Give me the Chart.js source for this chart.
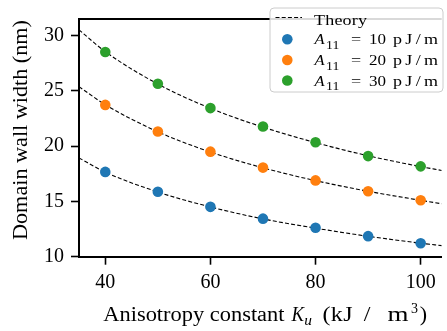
<!DOCTYPE html>
<html>
<head>
<meta charset="utf-8">
<script src="https://cdn.jsdelivr.net/npm/chart.js@4/dist/chart.umd.min.js"></script>
<style>
  html, body { margin: 0; padding: 0; background: #ffffff; }
  #wrap { width: 447px; height: 331px; position: relative; }
</style>
</head>
<body>
<div id="wrap"><canvas id="c" width="447" height="331"></canvas></div>
<script>
// ---- data ----
const anisotropy = [40, 50, 60, 70, 80, 90, 100];           // K_u (kJ/m^3)
const width10 = [17.67, 15.87, 14.51, 13.44, 12.62, 11.86, 11.22];
const width20 = [23.73, 21.33, 19.50, 18.06, 16.90, 15.92, 15.10];
const width30 = [28.51, 25.64, 23.44, 21.78, 20.35, 19.10, 18.17];

const theoryK = [35, 40, 50, 60, 70, 80, 90, 100, 104];
const theory10 = [18.93, 17.65, 15.85, 14.50, 13.42, 12.58, 11.85, 11.22, 11.00];
const theory20 = [25.38, 23.75, 21.30, 19.47, 18.04, 16.88, 15.92, 15.10, 14.79];
const theory30 = [30.52, 28.55, 25.62, 23.42, 21.72, 20.32, 19.13, 18.15, 17.80];

const xTicks = [40, 60, 80, 100];
const yTicks = [10, 15, 20, 25, 30];

const seriesValues = ['10', '20', '30'];   // A11 in pJ/m
const seriesColors = ['#1f77b4', '#ff7f0e', '#2ca02c'];

const SERIF = '"Liberation Serif", "DejaVu Serif", serif';

function pts(xs, ys) { return xs.map((x, i) => ({x: x, y: ys[i]})); }

function theoryDs(ys) {
  return {
    type: 'line', label: 'Theory', data: pts(theoryK, ys),
    borderColor: '#000', borderWidth: 1.1, borderDash: [4, 2.2],
    pointRadius: 0, fill: false, cubicInterpolationMode: 'monotone', order: 2
  };
}
function pointDs(v, ys, color) {
  return {
    type: 'scatter', label: 'A11 = ' + v + ' pJ/m', data: pts(anisotropy, ys),
    backgroundColor: color, borderColor: color, borderWidth: 0,
    pointRadius: 5.3, pointHoverRadius: 5.3, showLine: false, order: 1
  };
}

// draw text into slot [x0,x1]: mild horizontal scaling, remaining gap as letter spacing
function slot(ctx, text, x0, x1, y, font, maxS) {
  maxS = maxS || 1.15;
  ctx.font = font;
  ctx.letterSpacing = '0px';
  const w = ctx.measureText(text).width;
  const target = x1 - x0;
  const s = Math.min(target / w, maxS);
  let ls = 0, off = 0;
  if (text.length > 1) ls = (target / s - w) / (text.length - 1);
  else off = (target - s * w) / 2;
  ctx.save();
  ctx.translate(x0 + off, y);
  ctx.scale(s, 1);
  ctx.letterSpacing = ls + 'px';
  ctx.fillText(text, 0, 0);
  ctx.restore();
  ctx.letterSpacing = '0px';
}

const decorPlugin = {
  id: 'decor',
  afterDraw(chart) {
    const ctx = chart.ctx;
    const a = chart.chartArea;
    ctx.save();
    // top spine
    ctx.strokeStyle = '#000';
    ctx.lineWidth = 2;
    ctx.beginPath();
    ctx.moveTo(a.left - 1, a.top);
    ctx.lineTo(a.right, a.top);
    ctx.stroke();

    ctx.fillStyle = '#000';
    ctx.textAlign = 'left';
    ctx.textBaseline = 'alphabetic';
    // x axis title
    slot(ctx, 'Anisotropy constant', 103.3, 284.5, 321, '20px ' + SERIF, 1.2);
    slot(ctx, 'K', 291.5, 304, 321, 'italic 20px ' + SERIF, 1.1);
    slot(ctx, 'u', 304, 312, 324.5, 'italic 14px ' + SERIF, 1.1);
    slot(ctx, '(kJ', 322.5, 352.5, 321, '20px ' + SERIF, 1.2);
    slot(ctx, '/', 362.5, 371.5, 321, '20px ' + SERIF, 1.2);
    slot(ctx, 'm', 386, 410, 321, '20px ' + SERIF, 1.35);
    slot(ctx, '3', 411, 418, 313, '14px ' + SERIF, 1.1);
    slot(ctx, ')', 419.5, 427.5, 321, '20px ' + SERIF, 1.1);

    // y axis title
    ctx.save();
    ctx.translate(27, 130);
    ctx.rotate(-Math.PI / 2);
    slot(ctx, 'Domain wall width (nm)', -110, 110, 0, '20px ' + SERIF, 1.2);
    ctx.restore();

    // legend
    const lx = 270, ly = 8, lw = 173, lh = 84;
    ctx.beginPath();
    ctx.roundRect(lx, ly, lw, lh, 4);
    ctx.fillStyle = 'rgba(255,255,255,0.85)';
    ctx.fill();
    ctx.strokeStyle = '#cccccc';
    ctx.lineWidth = 1;
    ctx.stroke();

    // Theory entry
    ctx.strokeStyle = '#000';
    ctx.lineWidth = 1.1;
    ctx.setLineDash([4, 2.2]);
    ctx.beginPath();
    ctx.moveTo(275.5, 17.5);
    ctx.lineTo(302, 17.5);
    ctx.stroke();
    ctx.setLineDash([]);
    ctx.fillStyle = '#000';
    slot(ctx, 'Theory', 314, 367, 25, '15px ' + SERIF, 1.2);

    const rows = [39.3, 60, 80.5];
    rows.forEach((ry, i) => {
      ctx.fillStyle = seriesColors[i];
      ctx.beginPath();
      ctx.arc(287.3, ry, 5.3, 0, Math.PI * 2);
      ctx.fill();
      ctx.fillStyle = '#000';
      slot(ctx, 'A', 314, 325, ry + 5, 'italic 15px ' + SERIF, 1.1);
      slot(ctx, '11', 326, 339.5, ry + 9.5, '11.5px ' + SERIF, 1.2);
      slot(ctx, '=', 350, 362, ry + 5, '15px ' + SERIF, 1.2);
      slot(ctx, seriesValues[i], 369, 386, ry + 5, '15px ' + SERIF, 1.15);
      slot(ctx, 'pJ/m', 393, 438, ry + 5, '15px ' + SERIF, 1.2);
    });
    ctx.restore();
  }
};

new Chart(document.getElementById('c'), {
  data: {
    datasets: [
      theoryDs(theory10), theoryDs(theory20), theoryDs(theory30),
      pointDs(seriesValues[0], width10, seriesColors[0]),
      pointDs(seriesValues[1], width20, seriesColors[1]),
      pointDs(seriesValues[2], width30, seriesColors[2])
    ]
  },
  options: {
    responsive: false,
    animation: false,
    devicePixelRatio: 1,
    layout: { padding: { top: 2, right: 0, left: 0, bottom: 0 } },
    plugins: { legend: { display: false }, tooltip: { enabled: false } },
    scales: {
      x: {
        type: 'linear', min: 35, max: 104,
        afterBuildTicks(s) { s.ticks = xTicks.map(v => ({value: v})); },
        afterFit(s) { s.height = 74.3; },
        grid: { drawOnChartArea: false, drawTicks: true, tickLength: 8, tickWidth: 1.6, tickColor: '#000' },
        border: { display: true, color: '#000', width: 2 },
        ticks: { color: '#000', font: { family: SERIF, size: 20 }, padding: 6, maxRotation: 0 }
      },
      y: {
        type: 'linear', min: 10, max: 31.5,
        afterBuildTicks(s) { s.ticks = yTicks.map(v => ({value: v})); },
        afterFit(s) { s.width = 79; },
        grid: { drawOnChartArea: false, drawTicks: true, tickLength: 8, tickWidth: 1.6, tickColor: '#000' },
        border: { display: true, color: '#000', width: 2 },
        ticks: { color: '#000', font: { family: SERIF, size: 20 }, padding: 7 }
      }
    }
  },
  plugins: [decorPlugin]
});
</script>
</body>
</html>
